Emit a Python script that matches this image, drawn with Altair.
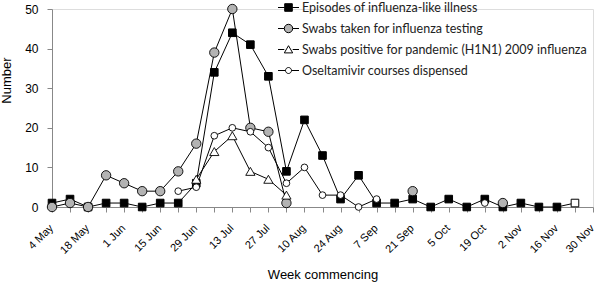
import json
import altair as alt
import pandas as pd

weeks = ["4 May", "11 May", "18 May", "25 May", "1 Jun", "8 Jun", "15 Jun", "22 Jun",
         "29 Jun", "6 Jul", "13 Jul", "20 Jul", "27 Jul", "3 Aug", "10 Aug", "17 Aug",
         "24 Aug", "31 Aug", "7 Sep", "14 Sep", "21 Sep", "28 Sep", "5 Oct", "12 Oct",
         "19 Oct", "26 Oct", "2 Nov", "9 Nov", "16 Nov", "23 Nov", "30 Nov"]

ili = [1, 2, 0, 1, 1, 0, 1, 1, 6, 34, 44, 41, 33, 9, 22, 13, 2, 8, 1, 1, 2, 0, 2, 0, 2, 0,
       1, 0, 0, 1, None]
swabs_taken = [0, 1, 0, 8, 6, 4, 4, 9, 16, 39, 50, 20, 19, 1, None, None, None, None, None,
               None, 4, None, None, None, None, 1, None, None, None, None, None]
swabs_positive = [None, None, None, None, None, None, None, None, 7, 14, 18, 9, 7, 3, None,
                  None, None, None, None, None, None, None, None, None, None, None, None,
                  None, None, None, None]
oseltamivir = [None, None, None, None, None, None, None, 4, 5, 18, 20, 19, 15, 6, 10, 3, 3,
               0, 2, None, None, None, None, None, 1, None, None, None, None, None, None]

series_names = ["Episodes of influenza-like illness",
                "Swabs taken for influenza testing",
                "Swabs positive for pandemic (H1N1) 2009 influenza",
                "Oseltamivir courses dispensed"]
series_values = [ili, swabs_taken, swabs_positive, oseltamivir]
ili_open_weeks = ["23 Nov"]

rows = []
for s_i, (name, vals) in enumerate(zip(series_names, series_values)):
    seg = 0
    prev_none = True
    for i, v in enumerate(vals):
        if v is None:
            prev_none = True
            continue
        if prev_none:
            seg += 1
        prev_none = False
        rows.append(dict(series=name, idx=i, week=weeks[i], value=v,
                         seg=f"{s_i}-{seg}", open=(s_i == 0 and weeks[i] in ili_open_weeks)))
df = pd.DataFrame(rows)

FONT = "Lato"
TXT = "#222222"

label_expr = f"datum.value % 2 == 0 ? {json.dumps(weeks)}[datum.value] : ''"

x_enc = alt.X("idx:Q",
              scale=alt.Scale(domain=[0, len(weeks) - 1], nice=False, zero=False),
              axis=alt.Axis(values=list(range(len(weeks))), labelExpr=label_expr,
                            labelAngle=-45, title="Week commencing", grid=False,
                            labelFontSize=11, titleFontSize=13, titleFontWeight="normal",
                            tickSize=5, labelPadding=10, labelOffset=-5, titleY=67,
                            titleBaseline="middle", labelOverlap=False,
                            labelBound=False, labelFlush=False))
y_enc = alt.Y("value:Q",
              scale=alt.Scale(domain=[0, 50], nice=False),
              axis=alt.Axis(values=[0, 10, 20, 30, 40, 50], grid=False, title="Number",
                            labelFontSize=12, titleFontSize=13, titleFontWeight="normal",
                            tickSize=5, labelPadding=9, titleX=-42, titleY=71,
                            titleBaseline="alphabetic"))

base = alt.Chart(df).encode(x=x_enc, y=y_enc)

lines = base.mark_line(color="black", strokeWidth=1).encode(
    detail="seg:N", order="idx:Q")

pt_ili = base.transform_filter(alt.datum.series == series_names[0]).mark_point(
    shape="square", filled=True, stroke="black", strokeWidth=1, size=58, opacity=1
).encode(fill=alt.condition(alt.datum.open, alt.value("white"), alt.value("black")))

pt_taken = base.transform_filter(alt.datum.series == series_names[1]).mark_point(
    shape="circle", filled=True, fill="#b3b3b3", stroke="black", strokeWidth=0.9,
    size=88, opacity=1)

pt_pos = base.transform_filter(alt.datum.series == series_names[2]).mark_point(
    shape="triangle-up", filled=True, fill="white", stroke="black", strokeWidth=0.9,
    size=85, opacity=1)

pt_osel = base.transform_filter(alt.datum.series == series_names[3]).mark_point(
    shape="circle", filled=True, fill="white", stroke="black", strokeWidth=0.9,
    size=45, opacity=1)

legend_paths = [
    "M-1.05,0H-0.38M0.38,0H1.05M-0.38,-0.38H0.38V0.38H-0.38Z",
    "M-1.05,0H-0.42M0.42,0H1.05M-0.42,0A0.42,0.42 0 1,1 0.42,0A0.42,0.42 0 1,1 -0.42,0Z",
    "M-1.05,0H-0.42M0.42,0H1.05M0,-0.38L0.42,0.34L-0.42,0.34Z",
    "M-1.05,0H-0.3M0.3,0H1.05M-0.3,0A0.3,0.3 0 1,1 0.3,0A0.3,0.3 0 1,1 -0.3,0Z",
]
legend_fills = ["black", "#b3b3b3", "white", "white"]
legend_strokes = ["black", "black", "black", "black"]

leg = alt.Legend(title=None, orient="none", legendX=226, legendY=-12, symbolSize=400,
                 labelFontSize=12.5, labelOffset=3, rowPadding=4, padding=0,
                 labelFont=FONT, labelColor=TXT, symbolStrokeWidth=1,
                 symbolOpacity=1, labelLimit=400)

legend_df = pd.DataFrame({"series": series_names})
legend_layer = alt.Chart(legend_df).transform_filter("false").mark_point(
    filled=False, strokeWidth=1, opacity=1
).encode(
    shape=alt.Shape("series:N", scale=alt.Scale(domain=series_names, range=legend_paths),
                    legend=leg),
    fill=alt.Fill("series:N", scale=alt.Scale(domain=series_names, range=legend_fills),
                  legend=leg),
    stroke=alt.Stroke("series:N", scale=alt.Scale(domain=series_names, range=legend_strokes),
                      legend=leg),
)

chart = alt.layer(lines, pt_ili, pt_taken, pt_pos, pt_osel, legend_layer).properties(
    width=541, height=198,
    autosize=alt.AutoSizeParams(type="none"),
    padding={"left": 52, "top": 9, "right": 7, "bottom": 77},
).configure_view(stroke=None).configure_axis(
    labelFont=FONT, titleFont=FONT, labelColor=TXT, titleColor=TXT,
    domainColor="#7a7a7a", domainWidth=1.5, tickColor="#333333", tickWidth=1,
).configure(background="white")

chart.save("out.html", embed_options={"renderer": "svg", "actions": False})
